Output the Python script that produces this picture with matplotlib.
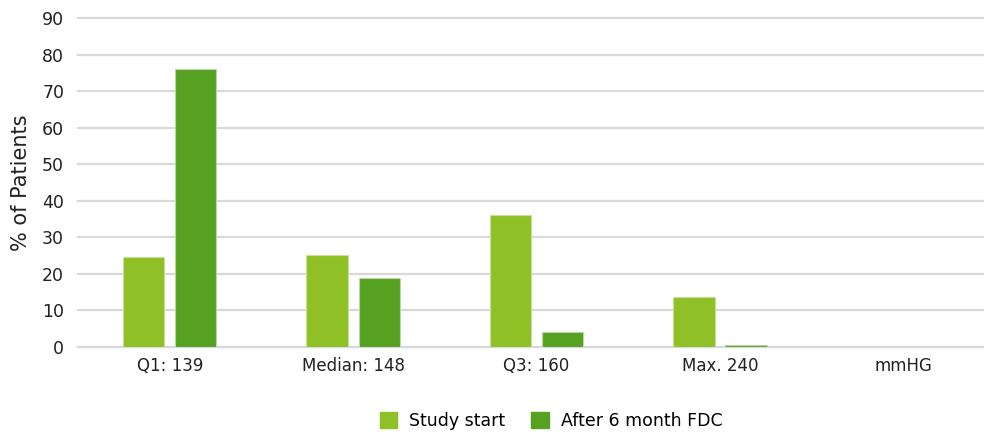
import matplotlib.pyplot as plt
import numpy as np
from matplotlib.patches import Patch

# data
categories = ['Q1: 139', 'Median: 148', 'Q3: 160', 'Max. 240', 'mmHG']
study_start = [24.6, 25.2, 36.1, 13.7, 0]
after_6m = [76.1, 18.9, 4.1, 0.5, 0]
series_names = ['Study start', 'After 6 month FDC']

c_light = '#8fc127'
c_dark = '#56a022'

plt.rcParams['font.family'] = ['DejaVu Sans']
fig = plt.figure(figsize=(9.84, 4.33), dpi=100)
ax = fig.add_axes([0.0793, 0.1986, 0.932, 0.7598])

x = np.arange(len(categories))
w = 0.225
ax.bar(x - 0.142, study_start, w, color=c_light, edgecolor='#c8e09a', linewidth=0.8, zorder=3)
ax.bar(x + 0.142, after_6m, w, color=c_dark, edgecolor='#b9d8a4', linewidth=0.8, zorder=3)

ax.set_xlim(-0.5, len(categories) - 0.5)
ax.set_ylim(0, 90)
ax.set_yticks(range(0, 91, 10))
ax.set_xticks(x)
ax.set_xticklabels(categories, fontsize=12, color='#222222')
ax.tick_params(axis='y', labelsize=12.5, colors='#222222', length=0, pad=10)
ax.tick_params(axis='x', length=0, pad=7)
ax.grid(axis='y', color='#d9d9d9', linewidth=1.6, zorder=0)
for gl in ax.get_ygridlines():
    gl.set_clip_on(False)
for s in ['top', 'right', 'left']:
    ax.spines[s].set_visible(False)
ax.spines['bottom'].set_color('#d9d9d9')
ax.spines['bottom'].set_linewidth(1.6)
ax.set_ylabel('% of Patients', fontsize=15, color='#222222', labelpad=8)

handles = [Patch(color=c_light), Patch(color=c_dark)]
fig.legend(handles, series_names, loc='center', bbox_to_anchor=(0.56, 0.028),
           ncol=2, frameon=False, fontsize=12.5, handlelength=1.0, handleheight=1.0,
           columnspacing=1.5, handletextpad=0.7)

plt.savefig('out.png', dpi=100)
